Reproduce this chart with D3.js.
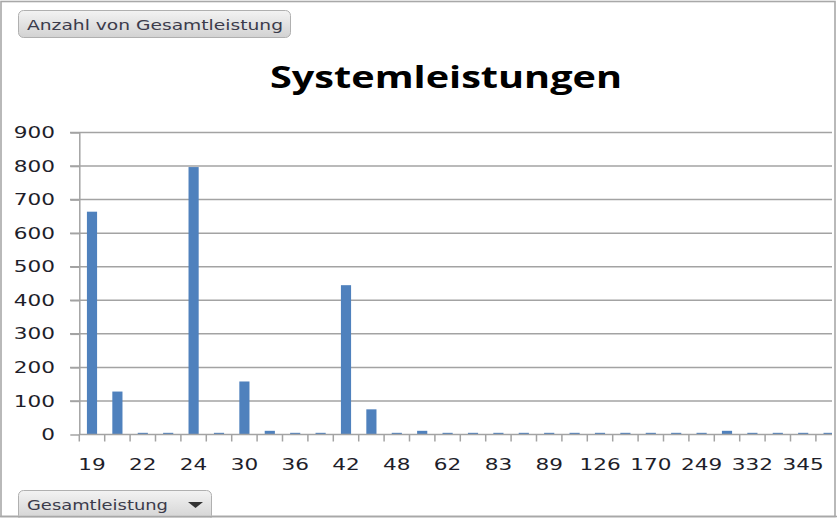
<!DOCTYPE html>
<html>
<head>
  <meta charset="utf-8">
  <title>Systemleistungen</title>
  <style>
    body { margin: 0; background: #fff; }
  </style>
</head>
<body>
  <svg width="837" height="518" font-family="DejaVu Sans, Verdana, sans-serif"></svg>

  <script src="https://cdn.jsdelivr.net/npm/d3@7/dist/d3.min.js"></script>
  <script type="text/javascript">
    // pivot chart: Anzahl von Gesamtleistung per Gesamtleistung
    var categories = ["19", "20", "22", "23", "24", "28", "30", "32", "36", "40",
      "42", "45", "48", "55", "62", "75", "83", "86", "89", "110",
      "126", "150", "170", "200", "249", "300", "332", "340", "345", "360"]
    var counts = [664, 128, 5, 5, 797, 5, 158, 11, 5, 5,
      445, 75, 5, 11, 5, 5, 5, 5, 5, 5,
      5, 5, 5, 5, 5, 11, 5, 5, 5, 5]
    var yTicks = [0, 100, 200, 300, 400, 500, 600, 700, 800, 900]

    var svg = d3.select("svg"),
      width = +svg.attr("width"),
      height = +svg.attr("height"),
      plotL = 79.3, plotR = 832, plotT = 132.5, plotB = 434.5,
      step = 25.4,
      sx = 1.35 // the screenshot is stretched sideways

    var x = d3.scaleBand()
      .domain(categories)
      .range([plotL, plotL + categories.length * step])
      .paddingInner(0.6)
      .paddingOuter(0.3)

    var y = d3.scaleLinear().domain([0, 900]).range([plotB, plotT])

    // frame
    svg.append("rect")
      .attr("x", 1).attr("y", 1.5)
      .attr("width", width - 3).attr("height", height - 3)
      .attr("fill", "#fff").attr("stroke", "#a8a8a8").attr("stroke-width", 1.6)

    var defs = svg.append("defs")
    var grad = defs.append("linearGradient").attr("id", "btn")
      .attr("x1", 0).attr("y1", 0).attr("x2", 0).attr("y2", 1)
    grad.append("stop").attr("offset", "0%").attr("stop-color", "#f3f3f3")
    grad.append("stop").attr("offset", "100%").attr("stop-color", "#d2d2d2")

    defs.append("clipPath").attr("id", "plot")
      .append("rect").attr("x", plotL).attr("y", 0).attr("width", plotR - plotL).attr("height", plotB + 20)

    // gridlines
    svg.append("g").selectAll("line")
      .data(yTicks.slice(1)).enter()
      .append("line")
      .attr("x1", 70).attr("x2", plotR)
      .attr("y1", d => y(d)).attr("y2", d => y(d))
      .attr("stroke", "#a3a3a3").attr("stroke-width", 1.5)

    // bars
    svg.append("g").attr("clip-path", "url(#plot)")
      .selectAll("rect")
      .data(categories.map((c, i) => ({cat: c, value: counts[i]}))).enter()
      .append("rect")
      .attr("x", d => x(d.cat))
      .attr("width", x.bandwidth())
      .attr("y", d => y(d.value))
      .attr("height", d => y(0) - y(d.value))
      .attr("fill", "#4f81bd")

    // y axis
    var yAxis = svg.append("g")
      .attr("transform", "translate(" + plotL + ",0)")
      .call(d3.axisLeft(y).tickValues(yTicks).tickSize(9).tickSizeOuter(0).tickPadding(9))
    yAxis.selectAll("line, path").attr("stroke", "#a3a3a3").attr("stroke-width", 1.5)
    yAxis.selectAll("text")
      .attr("fill", "#1e1e2a")
      .style("font-size", "16px")
      .style("font-family", "DejaVu Sans, Verdana, sans-serif")
      .attr("transform", "scale(" + sx + ",1)")

    // x axis (labels only, every second one fits)
    var xAxis = svg.append("g")
      .attr("transform", "translate(0," + plotB + ")")
      .call(d3.axisBottom(x).tickSize(0).tickPadding(24)
        .tickFormat((d, i) => i % 2 === 0 ? d : ""))
    xAxis.select(".domain").remove()
    xAxis.selectAll("text")
      .attr("fill", "#1e1e2a")
      .style("font-size", "16px")
      .style("font-family", "DejaVu Sans, Verdana, sans-serif")
      .attr("transform", "scale(" + sx + ",1)")

    // category boundary ticks + axis line
    svg.append("g").selectAll("line")
      .data(d3.range(categories.length + 1).filter(i => plotL + i * step <= plotR)).enter()
      .append("line")
      .attr("x1", i => x.range()[0] + i * x.step())
      .attr("x2", i => x.range()[0] + i * x.step())
      .attr("y1", plotB).attr("y2", plotB + 7)
      .attr("stroke", "#a3a3a3").attr("stroke-width", 1.5)
    svg.append("line")
      .attr("x1", plotL).attr("x2", plotR)
      .attr("y1", plotB).attr("y2", plotB)
      .attr("stroke", "#a3a3a3").attr("stroke-width", 1.5)

    // title
    svg.append("text")
      .attr("x", 446).attr("y", 88)
      .attr("text-anchor", "middle")
      .style("font-family", "Open Sans, Lato, sans-serif")
      .style("font-weight", "bold")
      .style("font-size", "30px")
      .attr("textLength", 352).attr("lengthAdjust", "spacingAndGlyphs")
      .attr("fill", "#000")
      .text("Systemleistungen")

    // field buttons
    svg.append("rect")
      .attr("x", 18.5).attr("y", 10.5).attr("width", 272).attr("height", 27).attr("rx", 5)
      .attr("fill", "url(#btn)").attr("stroke", "#b0b0b0")
    svg.append("text")
      .attr("x", 27).attr("y", 30)
      .style("font-size", "14px").attr("fill", "#3b3b4b")
      .attr("textLength", 256).attr("lengthAdjust", "spacingAndGlyphs")
      .text("Anzahl von Gesamtleistung")

    svg.append("rect")
      .attr("x", 18.5).attr("y", 490.5).attr("width", 193).attr("height", 30).attr("rx", 5)
      .attr("fill", "url(#btn)").attr("stroke", "#b0b0b0")
    svg.append("text")
      .attr("x", 27).attr("y", 510)
      .style("font-size", "14px").attr("fill", "#3b3b4b")
      .attr("textLength", 141).attr("lengthAdjust", "spacingAndGlyphs")
      .text("Gesamtleistung")
    svg.append("path")
      .attr("d", "M188,502 L203,502 L195.5,508 Z")
      .attr("fill", "#333")

    // bottom frame line over the button
    svg.append("line")
      .attr("x1", 0).attr("x2", width)
      .attr("y1", height - 1.5).attr("y2", height - 1.5)
      .attr("stroke", "#a8a8a8").attr("stroke-width", 1.6)
  </script>
</body>
</html>
